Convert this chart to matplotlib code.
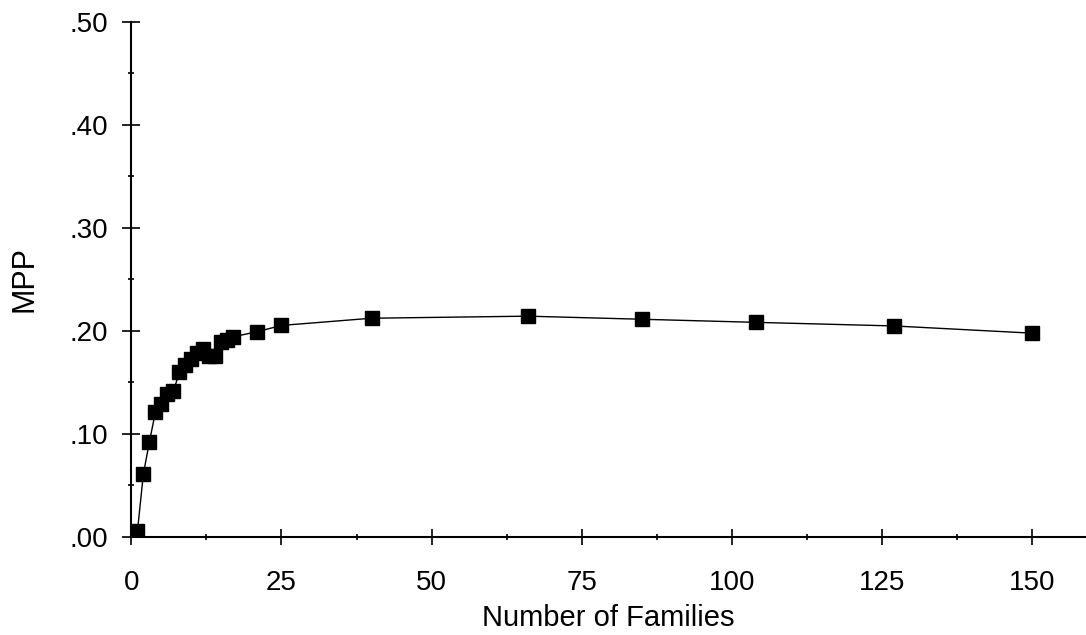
import numpy as np
import matplotlib
matplotlib.use("Agg")
import matplotlib.pyplot as plt
from matplotlib.ticker import MultipleLocator, FuncFormatter

# Number of families vs MPP
families = [1, 2, 3, 4, 5, 6, 7, 8, 9, 10, 11, 12, 13, 14, 15, 16, 17,
            21, 25, 40, 66, 85, 104, 127, 150]
mpp = [0.005, 0.061, 0.092, 0.121, 0.129, 0.138, 0.141, 0.160, 0.167, 0.172,
       0.178, 0.182, 0.175, 0.175, 0.189, 0.191, 0.194,
       0.199, 0.205, 0.212, 0.214, 0.211, 0.208, 0.2045, 0.1975]

x_ticks = [0, 25, 50, 75, 100, 125, 150]
y_ticks = [0.0, 0.1, 0.2, 0.3, 0.4, 0.5]

plt.rcParams['font.family'] = ['Liberation Sans', 'DejaVu Sans']

fig = plt.figure(figsize=(10.86, 6.35), dpi=100)
ax = fig.add_axes([0.121, 0.155, 0.879, 0.811])

ax.plot(families, mpp, color="black", linewidth=1.0, marker="s",
        markersize=9.5, markerfacecolor="black", markeredgecolor="black")

ax.set_xlim(0, 159)
ax.set_ylim(0, 0.5)
ax.set_xticks(x_ticks)
ax.set_yticks(y_ticks)
ax.xaxis.set_minor_locator(MultipleLocator(12.5))
ax.yaxis.set_minor_locator(MultipleLocator(0.05))
ax.yaxis.set_major_formatter(FuncFormatter(lambda v, p: ("%.2f" % v)[1:]))

for s in ["top", "right"]:
    ax.spines[s].set_visible(False)
ax.spines["left"].set_linewidth(1.5)
ax.spines["bottom"].set_linewidth(1.5)

ax.tick_params(axis="y", which="major", direction="inout", length=13, width=1.2,
               labelsize=20, pad=10)
ax.tick_params(axis="y", which="minor", direction="inout", length=5, width=1.2)
ax.tick_params(axis="x", which="major", direction="inout", length=12, width=1.2,
               labelsize=20, pad=18)
ax.tick_params(axis="x", which="minor", direction="inout", length=5, width=1.2)

ax.set_xlabel("Number of Families", fontsize=21, labelpad=6)
ax.set_ylabel("MPP", fontsize=22, labelpad=22)

fig.savefig("out.png", dpi=100)
